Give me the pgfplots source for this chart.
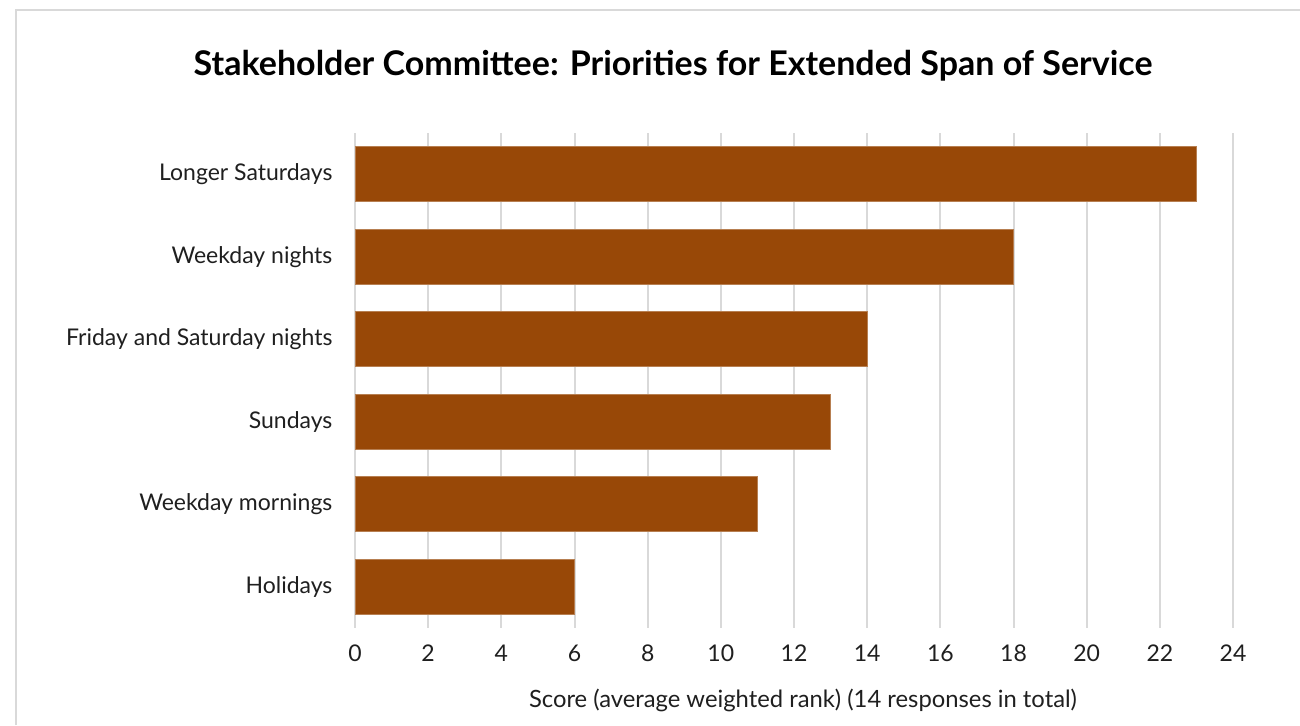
\documentclass[border=0pt]{standalone}
\usepackage{pgfplots}
\pgfplotsset{compat=1.18}
\usepackage{fontspec}
\setmainfont{Lato}
\definecolor{barc}{HTML}{984807}
\definecolor{gridc}{HTML}{D9D9D9}
\definecolor{txt}{HTML}{1F1F1F}
\begin{document}
\begin{tikzpicture}[x=0.5pt,y=0.5pt]
\useasboundingbox (0,0) rectangle (1300,725);
\draw[gridc, line width=1.1pt] (16,0) -- (16,715) -- (1300,715);
\node[font=\bfseries\fontsize{17}{20}\selectfont, text=black] at (673,659) {Stakeholder Committee: Priorities for Extended Span of Service};
\begin{axis}[at={(177.5pt,48.5pt)}, anchor=south west, scale only axis,
  width=439pt, height=247.5pt,
  xmin=0, xmax=24, ymin=-0.5, ymax=5.5, y dir=reverse,
  xtick={0,2,...,24}, ytick={0,...,5},
  yticklabels={Longer Saturdays, Weekday nights, Friday and Saturday nights, Sundays, Weekday mornings, Holidays},
  xmajorgrids, major grid style={gridc, line width=1pt},
  axis line style={draw=none}, tick style={draw=none},
  /pgf/number format/assume math mode=true,
  tick label style={font=\fontsize{11.5}{13}\selectfont, text=txt},
  yticklabel style={xshift=-3.5pt},
  xticklabel style={yshift=-5pt},
  xbar, bar width=27.5pt]
\addplot[fill=barc, draw=barc!70!white, line width=0.4pt] coordinates {(23,0) (18,1) (14,2) (13,3) (11,4) (6,5)};
\end{axis}
\node[font=\fontsize{11.9}{13}\selectfont, text=txt] at (803,25) {Score (average weighted rank) (14 responses in total)};
\end{tikzpicture}
\end{document}
